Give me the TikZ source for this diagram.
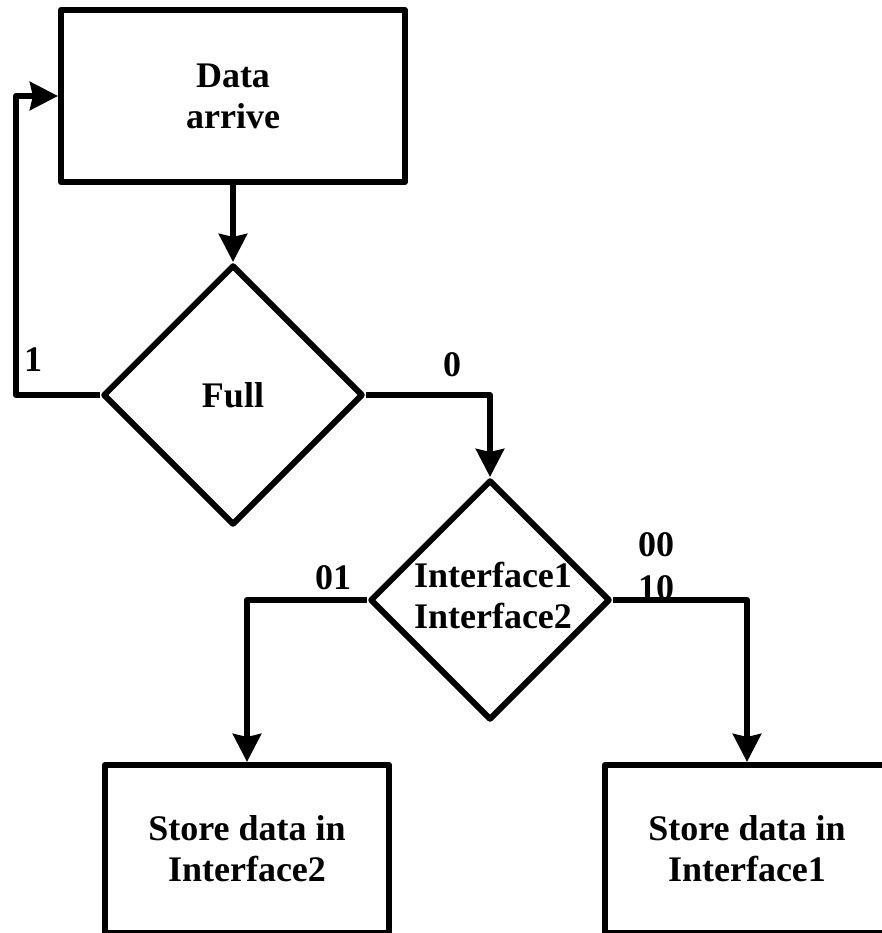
\documentclass[tikz,border=0pt]{standalone}
\usepackage{fontspec}
\setmainfont{Liberation Serif}
\usetikzlibrary{shapes.geometric,arrows.meta}
\tikzset{
  every node/.style={font=\fontsize{36}{41}\selectfont\bfseries},
  boxnode/.style={draw,line width=6pt,rectangle,align=center,inner sep=0pt,line join=round},
  decision/.style={draw,line width=6pt,diamond,align=center,inner sep=0pt,line join=round},
  flow/.style={line width=6pt,-{Stealth[length=28pt,width=28pt,inset=3pt]},line join=round},
  lbl/.style={inner sep=0pt,align=center}
}
\begin{document}
\begin{tikzpicture}[x=1pt,y=-1pt]
\useasboundingbox (0,0) rectangle (882,933);
\node[boxnode,minimum width=344pt,minimum height=172pt] (top) at (233,96) {Data\\arrive};
\node[decision,minimum width=260pt,minimum height=260pt] (d1) at (233,395) {Full};
\node[decision,minimum width=240pt,minimum height=240pt] (d2) at (490,600) {};
\node[lbl] (d2text) at (493,595) {Interface1\\Interface2};
\node[boxnode,minimum width=284pt,minimum height=168pt] (b2) at (247,849) {Store data in\\Interface2};
\node[boxnode,minimum width=284pt,minimum height=168pt] (b1) at (747,849) {Store data in\\Interface1};
\coordinate (loop) at (16,395);
\draw[flow] (top.south) -- (d1.north);
\draw[flow] (d1.west) -- (loop) |- (top.west);
\draw[flow] (d1.east) -| (d2.north);
\draw[flow] (d2.west) -| (b2.north);
\draw[flow] (d2.east) -| (b1.north);
\node[lbl] (l1) at (33,360) {1};
\node[lbl] (l0) at (452,365) {0};
\node[lbl] (l01) at (333,578) {01};
\node[lbl] (l00) at (656,545) {00};
\node[lbl] (l10) at (656,588) {10};
\end{tikzpicture}
\end{document}
